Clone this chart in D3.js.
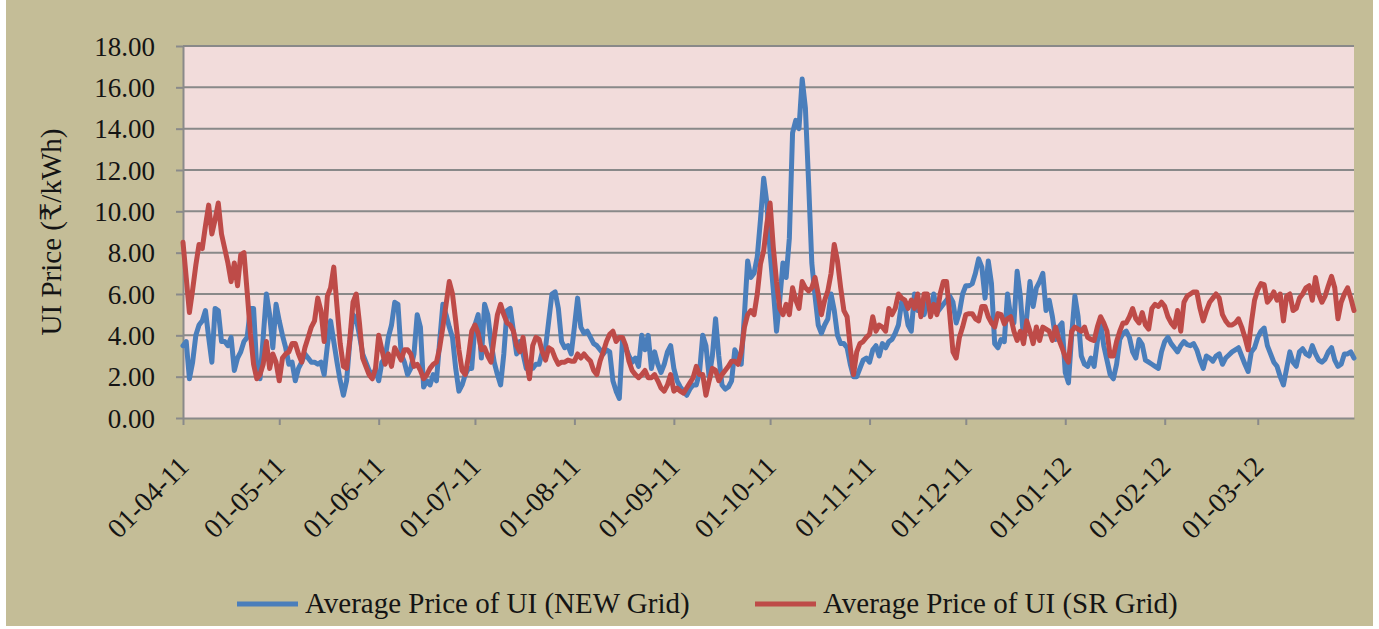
<!DOCTYPE html>
<html>
<head>
<meta charset="utf-8">
<script src="https://cdn.jsdelivr.net/npm/d3@7"></script>
<style>
  body { margin: 0; background: #fff; }
  text { font-family: "Liberation Serif", "Times New Roman", "DejaVu Serif", serif; fill: #141414; }
</style>
</head>
<body>
<svg id="chart" width="1379" height="629"></svg>
<script>
// daily UI price, 01-04-2011 .. 31-03-2012 (Rs/kWh)
var newGrid = [
  3.5,3.7,1.9,2.7,4.0,4.5,4.7,5.2,3.9,2.7,
  5.3,5.2,3.7,3.7,3.5,3.9,2.3,2.9,3.2,3.7,
  3.9,5.3,5.3,2.4,1.9,3.9,6.0,5.0,3.4,5.5,
  4.7,4.0,3.4,2.6,2.7,1.8,2.4,2.7,3.1,2.9,
  2.7,2.7,2.6,2.7,2.1,3.5,4.7,3.7,2.7,1.8,
  1.1,1.8,3.7,5.0,4.8,4.0,3.1,2.7,2.3,2.1,
  2.3,1.8,2.7,2.9,3.9,4.5,5.6,5.5,3.1,2.7,
  2.1,2.4,3.1,5.0,4.4,1.5,1.8,1.6,2.1,1.8,
  3.7,5.5,5.0,4.4,3.9,2.4,1.3,1.6,2.1,2.4,
  2.4,4.5,5.0,2.9,5.5,5.0,3.7,2.7,2.1,1.6,
  3.1,5.2,5.3,4.2,3.1,3.7,3.1,2.4,2.7,2.4,
  2.6,2.6,3.2,3.4,4.7,6.0,6.1,5.3,3.7,3.4,
  3.5,
  3.1,4.4,5.8,4.4,4.1,4.2,3.9,3.6,3.5,3.3,
  3.1,3.3,3.2,1.8,1.3,0.95,3.8,3.4,3.0,2.7,
  2.9,2.5,4.0,3.3,4.0,2.4,3.2,2.6,2.2,2.6,
  3.2,3.5,2.4,1.8,1.5,1.3,1.1,1.4,1.6,1.6,
  2.2,4.0,3.5,2.0,3.0,4.8,3.0,1.6,1.4,1.5,
  1.8,3.3,3.0,2.6,5.0,7.6,6.8,7.0,7.8,9.6,
  11.6,10.4,8.0,6.2,4.2,5.7,7.5,6.8,8.7,13.8,
  14.4,14.0,16.4,15.0,11.4,7.5,5.9,4.5,4.1,4.5,
  4.8,6.0,5.2,4.0,3.6,3.6,3.4,2.6,2.0,2.0,
  2.4,2.8,2.9,2.7,3.3,3.5,3.0,3.6,3.4,3.7,
  3.8,4.1,4.5,5.6,5.4,4.5,4.2,6.0,5.2,5.5,
  5.0,5.6,5.2,6.0,5.1,5.3,5.5,5.7,5.9,5.6,
  4.6,5.1,6.0,
  6.4,6.4,6.5,7.0,7.7,7.3,5.8,7.6,6.5,3.6,
  3.4,3.8,3.7,6.0,4.9,4.6,7.1,5.9,3.8,4.9,
  6.6,5.4,6.3,6.6,7.0,5.2,5.7,4.9,3.8,4.4,
  4.6,2.2,1.7,4.0,5.9,4.9,3.0,2.6,2.5,2.9,
  2.5,3.7,4.6,3.5,2.8,2.1,
  1.9,2.6,3.8,4.1,4.2,3.9,3.2,2.9,3.8,3.55,
  2.8,2.7,2.6,2.5,2.4,3.2,3.7,3.9,3.6,3.4,
  3.2,3.5,3.7,3.55,3.5,3.6,3.3,2.8,2.4,3.0,
  2.9,2.75,3.0,3.1,2.6,2.9,3.05,3.2,3.3,3.4,
  3.0,2.6,2.25,3.2,3.4,3.9,4.2,4.35,3.5,3.1,
  2.7,2.5,2.0,1.6,2.4,3.2,2.7,2.5,3.2,3.35,
  3.1,3.0,3.5,3.1,2.8,2.7,2.85,3.2,3.4,2.8,
  2.5,2.6,3.1,3.1,3.2,2.9
];

var srGrid = [
  8.5,6.8,5.1,6.2,7.4,8.4,8.2,9.3,10.3,8.9,
  9.6,10.4,8.9,8.2,7.5,6.6,7.5,6.4,7.9,8.0,
  6.1,4.1,2.6,1.9,2.1,2.6,3.7,2.4,3.1,2.7,
  1.8,2.9,3.1,3.2,3.6,3.6,3.1,2.7,3.4,3.9,
  4.4,4.7,5.8,5.2,3.7,5.9,6.3,7.3,5.4,3.6,
  2.5,2.4,3.8,5.6,6.0,4.6,2.9,2.5,2.1,1.9,
  2.4,4.0,3.3,2.6,3.1,2.5,3.4,3.1,2.8,3.3,
  3.3,3.1,2.5,2.6,2.3,1.9,2.1,2.4,2.6,2.7,
  3.4,4.4,5.5,6.6,6.0,4.7,3.3,2.3,2.1,3.0,
  4.2,4.5,4.1,3.3,3.4,3.0,2.7,3.9,5.0,5.5,
  5.0,4.6,4.5,4.2,3.5,3.2,3.9,2.8,1.9,3.5,
  3.9,3.8,3.2,2.8,3.4,3.3,2.9,2.6,2.7,2.7,
  2.8,
  2.75,2.75,3.1,2.9,3.1,2.9,2.75,2.3,2.1,2.75,
  3.2,3.7,4.05,4.2,3.7,3.9,3.9,3.5,2.75,2.3,
  2.1,1.95,2.1,2.3,1.95,1.95,2.1,1.8,1.45,1.3,
  1.6,2.1,1.3,1.45,1.3,1.2,1.45,1.7,1.95,2.5,
  2.1,2.1,1.1,1.8,2.4,2.3,1.8,2.1,2.3,2.5,
  2.75,2.75,2.6,3.2,4.4,5.0,5.2,5.0,6.0,7.45,
  8.1,9.4,10.4,8.25,6.6,5.3,5.0,5.5,5.0,6.3,
  5.7,5.3,6.6,6.3,6.15,6.3,6.8,6.0,5.0,5.7,
  6.15,7.0,8.4,7.6,6.3,5.2,4.9,3.4,2.1,3.2,
  3.6,3.7,3.9,4.05,4.9,4.2,4.5,4.4,4.2,5.3,
  5.0,5.3,6.0,5.8,5.7,5.3,5.7,5.3,6.0,4.9,
  6.0,6.0,4.9,5.5,5.0,6.0,6.6,6.6,5.0,3.2,
  2.9,3.9,4.4,
  5.0,5.05,5.05,4.8,4.7,5.4,5.4,4.9,4.6,4.4,
  5.05,5.0,4.55,4.8,4.9,4.2,3.75,4.2,3.6,4.7,
  4.2,3.6,4.4,3.75,4.4,4.3,4.2,3.75,4.4,3.8,
  3.4,2.95,2.7,4.2,4.4,4.3,4.2,4.4,3.9,3.8,
  3.75,4.4,4.9,4.6,4.2,3.0,
  3.0,3.7,4.2,4.6,4.6,4.9,5.3,4.8,4.6,5.1,
  4.5,4.3,5.3,5.5,5.4,5.6,5.4,4.9,4.6,4.4,
  5.2,4.2,5.6,5.9,6.0,6.1,6.1,5.3,4.7,5.2,
  5.6,5.8,6.0,5.8,5.0,4.7,4.5,4.5,4.6,4.8,
  4.4,3.9,3.3,4.6,5.7,6.2,6.5,6.45,5.6,5.8,
  6.1,5.7,6.0,4.7,5.9,6.0,5.2,5.3,5.8,6.0,
  6.3,6.4,5.7,6.8,6.0,5.6,5.9,6.4,6.85,6.3,
  4.8,5.6,6.0,6.3,5.8,5.2
];

var seriesNames = ["Average Price of UI (NEW Grid)", "Average Price of UI (SR Grid)"];
var yTicks = [0, 2, 4, 6, 8, 10, 12, 14, 16, 18];

// one date per value, starting 1 April 2011
var days = d3.timeDay.range(new Date(2011, 3, 1), new Date(2012, 3, 1));
var months = d3.timeMonth.range(new Date(2011, 3, 1), new Date(2012, 3, 1));

var colors = ["#4a7ebb", "#be4b48"];
var plotLeft = 183, plotRight = 1354, plotTop = 46, plotBottom = 418;

var svg = d3.select("#chart");

// backgrounds
svg.append("rect").attr("x", 6).attr("y", 0).attr("width", 1367).attr("height", 626).attr("fill", "#c4bd97");
svg.append("rect")
  .attr("x", plotLeft).attr("y", plotTop)
  .attr("width", plotRight - plotLeft).attr("height", plotBottom - plotTop)
  .attr("fill", "#f2dcdb");

var x = d3.scaleTime()
  .domain([days[0], days[days.length - 1]])
  .range([plotLeft, plotRight]);

var y = d3.scaleLinear()
  .domain([0, 18])
  .range([plotBottom, plotTop]);

// gridlines
svg.append("g")
  .selectAll("line")
  .data(yTicks.slice(1))
  .join("line")
    .attr("x1", plotLeft)
    .attr("x2", plotRight)
    .attr("y1", function(d) { return y(d); })
    .attr("y2", function(d) { return y(d); })
    .attr("stroke", "#898989")
    .attr("stroke-width", 2);

// y axis
var yAxis = d3.axisLeft(y)
  .tickValues(yTicks)
  .tickSize(7)
  .tickSizeOuter(0)
  .tickPadding(21)
  .tickFormat(d3.format(".2f"));

var gy = svg.append("g")
  .attr("transform", "translate(" + plotLeft + ",0)")
  .call(yAxis);
gy.selectAll("text").style("font-size", "27px").attr("dy", "0.34em");

// x axis
var xAxis = d3.axisBottom(x)
  .tickValues(months)
  .tickSize(7)
  .tickSizeOuter(0)
  .tickFormat(d3.timeFormat("%d-%m-%y"));

var gx = svg.append("g")
  .attr("transform", "translate(0," + plotBottom + ")")
  .call(xAxis);
gx.selectAll("text")
  .style("font-size", "28px")
  .attr("text-anchor", "end")
  .attr("dy", null)
  .attr("y", null)
  .attr("transform", "translate(7,50) rotate(-45)");

svg.selectAll(".domain, .tick line")
  .attr("stroke", "#8a8a8a")
  .attr("stroke-width", 2);

// y title
svg.append("text")
  .attr("transform", "translate(61,232) rotate(-90)")
  .attr("text-anchor", "middle")
  .style("font-size", "29px")
  .text("UI Price (₹/kWh)");

// series
var line = d3.line()
  .x(function(d, i) { return x(days[i]); })
  .y(function(d) { return y(d); });

[newGrid, srGrid].forEach(function(vals, k) {
  svg.append("path")
    .datum(vals)
    .attr("fill", "none")
    .attr("stroke", colors[k])
    .attr("stroke-width", 5)
    .attr("stroke-linejoin", "round")
    .attr("stroke-linecap", "round")
    .attr("d", line);
});

// legend
var legendX = [237, 755];
seriesNames.forEach(function(name, k) {
  svg.append("line")
    .attr("x1", legendX[k]).attr("x2", legendX[k] + 61)
    .attr("y1", 604).attr("y2", 604)
    .attr("stroke", colors[k])
    .attr("stroke-width", 5);
  svg.append("text")
    .attr("x", legendX[k] + 68)
    .attr("y", 613)
    .style("font-size", "29px")
    .text(name);
});
</script>
</body>
</html>
